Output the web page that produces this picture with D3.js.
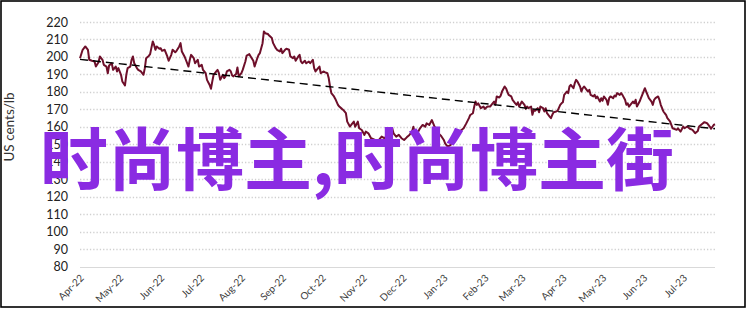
<!DOCTYPE html>
<html>
<head>
<meta charset="utf-8">
<script src="https://cdn.jsdelivr.net/npm/d3@7/dist/d3.min.js"></script>
<style>
  html, body { margin: 0; padding: 0; background: #fff; }
  svg { display: block; }
</style>
</head>
<body>
<div id="chart"></div>
<script>
// ---------- data ----------
const dates = [
"2022-04-01","2022-04-03","2022-04-05","2022-04-07","2022-04-08","2022-04-10","2022-04-12","2022-04-13","2022-04-15","2022-04-16",
"2022-04-18","2022-04-19","2022-04-21","2022-04-22","2022-04-23","2022-04-25","2022-04-26","2022-04-28","2022-04-29","2022-04-30",
"2022-05-02","2022-05-03","2022-05-05","2022-05-06","2022-05-07","2022-05-09","2022-05-10","2022-05-11","2022-05-12","2022-05-14",
"2022-05-15","2022-05-17","2022-05-19","2022-05-20","2022-05-21","2022-05-23","2022-05-24","2022-05-26","2022-05-27","2022-05-28",
"2022-05-29","2022-05-31","2022-06-01","2022-06-02","2022-06-04","2022-06-05","2022-06-06","2022-06-07","2022-06-09","2022-06-10",
"2022-06-12","2022-06-13","2022-06-15","2022-06-16","2022-06-17","2022-06-19","2022-06-20","2022-06-22","2022-06-23","2022-06-24",
"2022-06-26","2022-06-27","2022-06-29","2022-06-30","2022-07-02","2022-07-03","2022-07-05","2022-07-06","2022-07-08","2022-07-09",
"2022-07-10","2022-07-11","2022-07-13","2022-07-14","2022-07-15","2022-07-16","2022-07-18","2022-07-19","2022-07-20","2022-07-21",
"2022-07-23","2022-07-24","2022-07-25","2022-07-26","2022-07-28","2022-07-29","2022-07-30","2022-08-01","2022-08-02","2022-08-04",
"2022-08-05","2022-08-07","2022-08-08","2022-08-10","2022-08-11","2022-08-13","2022-08-14","2022-08-15","2022-08-17","2022-08-18",
"2022-08-19","2022-08-21","2022-08-22","2022-08-24","2022-08-25","2022-08-27","2022-08-28","2022-08-30","2022-08-31","2022-09-01",
"2022-09-03","2022-09-04","2022-09-06","2022-09-07","2022-09-09","2022-09-10","2022-09-11","2022-09-13","2022-09-14","2022-09-15",
"2022-09-16","2022-09-18","2022-09-19","2022-09-21","2022-09-22","2022-09-24","2022-09-25","2022-09-26","2022-09-28","2022-09-29",
"2022-09-30","2022-10-02","2022-10-03","2022-10-05","2022-10-06","2022-10-07","2022-10-08","2022-10-10","2022-10-11","2022-10-13",
"2022-10-14","2022-10-16","2022-10-17","2022-10-19","2022-10-20","2022-10-22","2022-10-23","2022-10-25","2022-10-26","2022-10-28",
"2022-10-29","2022-10-31","2022-11-02","2022-11-03","2022-11-05","2022-11-07","2022-11-10","2022-11-11","2022-11-13","2022-11-15",
"2022-11-17","2022-11-19","2022-11-21","2022-11-23","2022-11-24","2022-11-26","2022-11-28","2022-11-30","2022-12-02","2022-12-04",
"2022-12-06","2022-12-08","2022-12-09","2022-12-10","2022-12-12","2022-12-14","2022-12-16","2022-12-18","2022-12-19","2022-12-21",
"2022-12-23","2022-12-24","2022-12-25","2022-12-27","2022-12-28","2022-12-30","2023-01-01","2023-01-02","2023-01-03","2023-01-04",
"2023-01-06","2023-01-08","2023-01-11","2023-01-13","2023-01-16","2023-01-18","2023-01-20","2023-01-21","2023-01-23","2023-01-24",
"2023-01-25","2023-01-26","2023-01-27","2023-01-29","2023-01-31","2023-02-01","2023-02-03","2023-02-05","2023-02-06","2023-02-08",
"2023-02-09","2023-02-10","2023-02-12","2023-02-13","2023-02-14","2023-02-16","2023-02-17","2023-02-18","2023-02-19","2023-02-21",
"2023-02-22","2023-02-24","2023-02-25","2023-02-26","2023-02-27","2023-03-01","2023-03-03","2023-03-04","2023-03-05","2023-03-06",
"2023-03-08","2023-03-09","2023-03-10","2023-03-11","2023-03-13","2023-03-14","2023-03-15","2023-03-17","2023-03-18","2023-03-19",
"2023-03-20","2023-03-22","2023-03-23","2023-03-24","2023-03-25","2023-03-27","2023-03-28","2023-03-30","2023-03-31","2023-04-01",
"2023-04-02","2023-04-04","2023-04-05","2023-04-06","2023-04-07","2023-04-09","2023-04-10","2023-04-11","2023-04-12","2023-04-14",
"2023-04-15","2023-04-16","2023-04-17","2023-04-19","2023-04-20","2023-04-21","2023-04-22","2023-04-24","2023-04-25","2023-04-26",
"2023-04-27","2023-04-29","2023-04-30","2023-05-01","2023-05-02","2023-05-04","2023-05-05","2023-05-06","2023-05-07","2023-05-09",
"2023-05-10","2023-05-11","2023-05-12","2023-05-14","2023-05-15","2023-05-16","2023-05-18","2023-05-19","2023-05-20","2023-05-21",
"2023-05-22","2023-05-24","2023-05-25","2023-05-26","2023-05-27","2023-05-29","2023-05-30","2023-05-31","2023-06-02","2023-06-03",
"2023-06-04","2023-06-05","2023-06-07","2023-06-08","2023-06-09","2023-06-10","2023-06-12","2023-06-13","2023-06-14","2023-06-16",
"2023-06-17","2023-06-18","2023-06-19","2023-06-21","2023-06-22","2023-06-23","2023-06-24","2023-06-26","2023-06-27","2023-06-29",
"2023-07-01","2023-07-02","2023-07-04","2023-07-06","2023-07-08","2023-07-10","2023-07-12","2023-07-13","2023-07-15","2023-07-17",
"2023-07-19","2023-07-21","2023-07-22","2023-07-24","2023-07-25"
];
const prices = [
199.3,204.1,206.0,204.0,198.4,197.8,197.4,194.5,197.0,200.3,
198.4,195.5,194.5,190.7,195.1,196.4,192.6,194.5,191.7,193.6,
189.8,186.0,183.7,189.8,193.6,194.5,198.4,200.3,196.4,193.6,
192.6,191.7,189.8,193.6,199.3,200.6,201.6,208.9,206.9,204.1,
206.0,204.7,205.0,203.5,204.1,202.2,200.3,197.8,201.2,204.1,
202.7,203.5,206.0,207.9,203.1,200.3,198.4,194.5,198.4,201.2,
199.3,196.4,198.4,194.5,195.5,192.6,190.7,186.9,184.0,181.8,
186.0,189.8,191.7,192.6,190.7,186.9,189.8,187.9,188.9,191.7,
192.6,191.7,189.4,188.9,190.2,194.0,188.9,190.7,192.6,197.4,
200.8,201.6,200.3,197.8,194.5,199.3,201.2,202.2,207.9,214.6,
213.6,213.1,212.3,210.8,207.9,205.0,204.1,203.1,204.7,202.2,
204.1,204.7,204.1,200.3,199.3,200.3,197.8,200.3,201.2,197.4,
196.4,197.8,196.4,197.4,196.4,198.4,193.6,191.7,193.6,194.5,
190.7,191.7,191.3,190.7,187.9,183.1,179.3,177.4,176.0,172.6,
171.6,170.3,169.7,167.8,163.0,160.2,161.1,163.0,160.1,163.0,
159.2,158.2,155.4,157.3,156.3,153.5,152.5,151.6,152.5,154.4,
153.5,154.8,154.4,159.2,156.3,154.4,155.4,153.5,152.5,154.0,
155.4,157.3,160.1,156.3,156.3,159.2,161.1,160.1,162.0,161.1,
163.9,162.0,160.1,158.2,156.3,154.8,152.5,150.6,149.6,148.7,
149.5,152.5,155.4,157.3,159.2,162.0,165.0,166.8,167.8,171.6,
174.5,172.6,173.5,170.7,171.6,170.3,171.6,171.6,172.6,174.5,
172.6,177.4,176.8,177.9,180.2,183.1,182.1,180.2,178.3,177.4,
175.5,173.5,172.6,174.1,171.6,174.5,172.6,170.3,171.6,170.7,
171.6,166.9,169.7,169.2,170.7,168.4,171.6,170.7,168.8,170.7,
167.8,165.9,165.0,166.9,168.4,168.8,169.2,172.6,173.5,174.1,
178.3,180.2,179.3,183.1,184.0,182.1,185.0,186.9,186.0,183.1,
180.2,182.1,183.1,181.2,180.2,181.2,178.3,177.4,178.3,176.4,
177.4,174.5,176.4,174.9,177.4,175.5,172.6,176.4,177.4,176.4,
177.9,177.4,179.3,178.3,179.3,178.3,175.5,172.6,173.5,171.6,
172.6,174.5,173.5,175.5,171.6,174.5,176.4,178.3,182.1,180.2,
178.3,176.4,174.5,172.6,175.5,176.4,177.4,175.5,172.6,168.8,
167.8,166.9,165.0,163.1,161.1,159.2,158.9,158.3,159.2,157.3,
160.2,159.2,160.2,158.9,158.3,156.4,157.7,160.2,161.5,162.7,
162.1,160.2,158.9,161.1,161.5
];
// linear trend line end values (start and end of the series)
const trendValues = [198.6, 158.9];
const yTicks = [80, 90, 100, 110, 120, 130, 140, 150, 160, 170, 180, 190, 200, 210, 220];
const xTickDates = ["2022-04-01","2022-05-01","2022-06-01","2022-07-01","2022-08-01","2022-09-01","2022-10-01","2022-11-01",
  "2022-12-01","2023-01-01","2023-02-01","2023-03-01","2023-04-01","2023-05-01","2023-06-01","2023-07-01"];
const yTitle = "US cents/lb";
const watermark = "时尚博主,时尚博主街";

// ---------- layout ----------
const W = 746, H = 309;
const plot = { left: 80, right: 715, top: 22, bottom: 266.7 };
const parse = d3.utcParse("%Y-%m-%d");
const fmt = d3.utcFormat("%b-%y");
const series = dates.map((d, i) => ({ date: parse(d), value: prices[i] }));

const x = d3.scaleUtc()
  .domain([parse(dates[0]), parse(dates[dates.length - 1])])
  .range([plot.left, plot.right]);
const y = d3.scaleLinear().domain([80, 220]).range([plot.bottom, plot.top]);

const svg = d3.select("#chart").append("svg").attr("width", W).attr("height", H);
svg.append("rect").attr("x", 0).attr("y", 0).attr("width", W).attr("height", H).attr("fill", "#fff");

const labelFont = "Lato, 'Open Sans', 'DejaVu Sans', sans-serif";

// gridlines
svg.append("g").selectAll("line").data(yTicks.filter(t => t > 80)).join("line")
  .attr("x1", plot.left).attr("x2", plot.right)
  .attr("y1", d => Math.round(y(d)) + 0.5).attr("y2", d => Math.round(y(d)) + 0.5)
  .attr("stroke", "#d0d0d0").attr("stroke-width", 1.3).attr("stroke-dasharray", "1.3,2");

// y axis (labels only)
const yAxis = d3.axisLeft(y).tickValues(yTicks).tickSize(0).tickPadding(12);
const gy = svg.append("g").attr("transform", `translate(${plot.left},0)`).call(yAxis);
gy.select(".domain").remove();
gy.selectAll("text").attr("font-family", labelFont).attr("font-size", 12.5).attr("fill", "#222");

// x axis
const xAxis = d3.axisBottom(x).tickValues(xTickDates.map(parse)).tickFormat(fmt).tickSize(0);
const gx = svg.append("g").attr("transform", `translate(0,${plot.bottom})`).call(xAxis);
gx.select(".domain").remove();
gx.selectAll("text")
  .attr("font-family", labelFont).attr("font-size", 10).attr("fill", "#404040")
  .attr("text-anchor", "end").attr("dy", 0).attr("y", 0)
  .attr("transform", "translate(4,12) rotate(-45)");
svg.append("line")
  .attr("x1", plot.left).attr("x2", plot.right)
  .attr("y1", Math.round(plot.bottom) + 0.5).attr("y2", Math.round(plot.bottom) + 0.5)
  .attr("stroke", "#d9d9d9").attr("stroke-width", 1.2);

// y title
svg.append("text")
  .attr("transform", `translate(14,127) rotate(-90)`)
  .attr("text-anchor", "middle")
  .attr("font-family", labelFont).attr("font-size", 13.5).attr("fill", "#333")
  .text(yTitle);

// price line
const line = d3.line().x(d => x(d.date)).y(d => y(d.value));
svg.append("path").datum(series)
  .attr("d", line).attr("fill", "none")
  .attr("stroke", "#6e0f2a").attr("stroke-width", 2).attr("stroke-linejoin", "round");

// trend line
const trend = [
  { date: parse(dates[0]), value: trendValues[0] },
  { date: parse(dates[dates.length - 1]), value: trendValues[1] }
];
svg.append("path").datum(trend)
  .attr("d", line).attr("fill", "none")
  .attr("stroke", "#000").attr("stroke-width", 1.4).attr("stroke-dasharray", "8,5");

// watermark
svg.append("text")
  .attr("x", 40).attr("y", 185)
  .attr("font-family", "'Noto Sans CJK SC', sans-serif").attr("font-weight", 700)
  .attr("font-size", 68).attr("fill", "#8a2be2")
  .text(watermark);

// frame
svg.append("rect").attr("x", 1).attr("y", 1).attr("width", W - 2).attr("height", H - 3)
  .attr("fill", "none").attr("stroke", "#000").attr("stroke-width", 1.6);
</script>
</body>
</html>
